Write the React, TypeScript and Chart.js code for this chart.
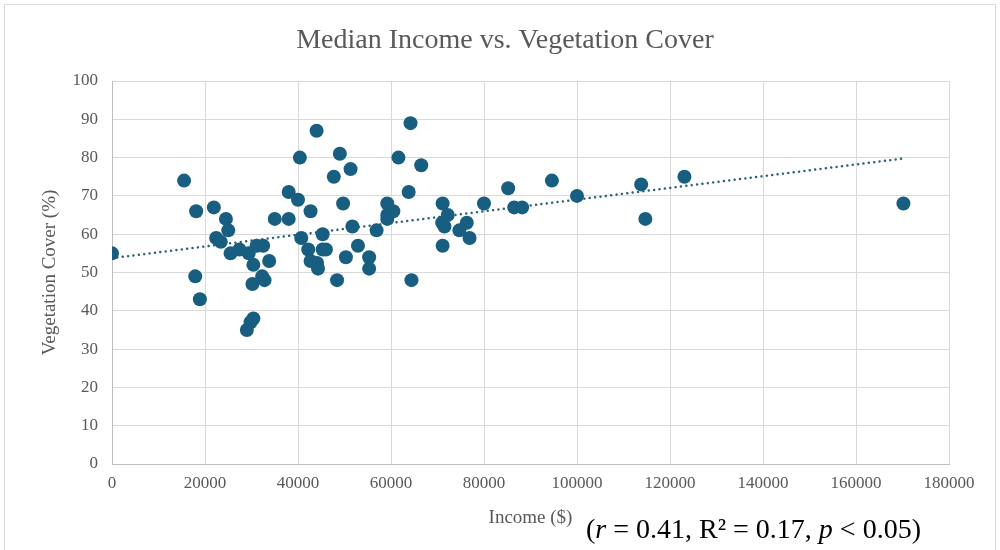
import React, { useEffect, useRef } from "react";
import { Chart, registerables } from "chart.js";

Chart.register(...registerables);

// Median household income ($) per area
const incomes = [
  0, 15500, 17900, 18100, 18900, 21900, 22400, 23400, 24500, 25000,
  25500, 27400, 29000, 29400, 29800, 30200, 30400, 30400, 31100, 32300,
  32500, 32800, 33800, 35000, 38000, 38000, 40000, 40400, 40700, 42200,
  42700, 42700, 44000, 44100, 44300, 45300, 45300, 46000, 47700, 48400,
  49000, 49700, 50300, 51300, 51700, 52900, 55300, 55300, 56900, 59200,
  59200, 59200, 60500, 61600, 63800, 64200, 64400, 66500, 71100, 71000,
  71500, 71100, 72200, 74700, 76300, 76900, 80000, 85200, 86500, 88200,
  94600, 100000, 113800, 114700, 123100, 170200,
];

// Vegetation cover (%) per area
const vegetation = [
  55, 74, 49, 66, 43, 67, 59, 58, 64, 61,
  55, 56, 35, 55, 37, 47, 38, 52, 57, 49,
  57, 48, 53, 64, 64, 71, 69, 80, 59, 56,
  66, 53, 87, 52.5, 51, 60, 56, 56, 75, 48,
  81, 68, 54, 77, 62, 57, 54, 51, 61, 68,
  65, 64, 66, 80, 71, 89, 48, 78, 68, 63,
  62, 57, 65, 61, 63, 59, 68, 72, 67, 67,
  74, 70, 73, 64, 75, 68,
];

const xTickValues = [0, 20000, 40000, 60000, 80000, 100000, 120000, 140000, 160000, 180000];
const yTickValues = [0, 10, 20, 30, 40, 50, 60, 70, 80, 90, 100];

const chartTitle = "Median Income vs. Vegetation Cover";
const xAxisTitle = "Income ($)";
const yAxisTitle = "Vegetation Cover (%)";
const statsParts: { text: string; italic: boolean }[] = [
  { text: "(", italic: false },
  { text: "r", italic: true },
  { text: " = 0.41, R\u00B2 = 0.17, ", italic: false },
  { text: "p", italic: true },
  { text: " < 0.05)", italic: false },
];

function linearFit(xs: number[], ys: number[]) {
  const n = xs.length;
  const mx = xs.reduce((a, b) => a + b, 0) / n;
  const my = ys.reduce((a, b) => a + b, 0) / n;
  let sxy = 0;
  let sxx = 0;
  for (let i = 0; i < n; i++) {
    sxy += (xs[i] - mx) * (ys[i] - my);
    sxx += (xs[i] - mx) * (xs[i] - mx);
  }
  const slope = sxy / sxx;
  return { slope, intercept: my - slope * mx };
}

const SERIF = "'Liberation Serif', 'Times New Roman', serif";
const GREY_TEXT = "#595959";

const decorPlugin = {
  id: "decor",
  beforeDraw(chart: any) {
    const { ctx, width, height } = chart;
    ctx.save();
    ctx.fillStyle = "#ffffff";
    ctx.fillRect(0, 0, width, height);
    ctx.strokeStyle = "#d9d9d9";
    ctx.lineWidth = 1;
    ctx.strokeRect(4.5, 4.5, width - 9, height + 10);
    ctx.restore();
  },
  afterDraw(chart: any) {
    const { ctx, chartArea } = chart;
    ctx.save();
    // title
    ctx.fillStyle = GREY_TEXT;
    ctx.font = `28px ${SERIF}`;
    ctx.textAlign = "center";
    ctx.textBaseline = "middle";
    ctx.fillText(chartTitle, 505, 41);

    // x axis title
    ctx.font = `19px ${SERIF}`;
    ctx.fillText(xAxisTitle, (chartArea.left + chartArea.right) / 2, 518);

    // y axis title
    ctx.save();
    ctx.translate(50, (chartArea.top + chartArea.bottom) / 2);
    ctx.rotate(-Math.PI / 2);
    ctx.fillText(yAxisTitle, 0, 0);
    ctx.restore();

    // statistics annotation
    ctx.fillStyle = "#000000";
    ctx.textAlign = "left";
    ctx.textBaseline = "alphabetic";
    let x = 586;
    const y = 538;
    for (const part of statsParts) {
      ctx.font = `${part.italic ? "italic " : ""}28px ${SERIF}`;
      ctx.fillText(part.text, x, y);
      x += ctx.measureText(part.text).width;
    }
    ctx.restore();
  },
};

export default function App() {
  const canvasRef = useRef<HTMLCanvasElement | null>(null);

  useEffect(() => {
    if (!canvasRef.current) return;
    const points = incomes.map((v, i) => ({ x: v, y: vegetation[i] }));
    const fit = linearFit(incomes, vegetation);
    const xMin = Math.min(...incomes);
    const xMax = Math.max(...incomes);
    const trend = [
      { x: xMin, y: fit.intercept + fit.slope * xMin },
      { x: xMax, y: fit.intercept + fit.slope * xMax },
    ];

    const tickFont = { family: SERIF, size: 17 };

    const chart = new Chart(canvasRef.current, {
      type: "scatter",
      data: {
        datasets: [
          {
            type: "scatter",
            label: "Vegetation Cover",
            data: points,
            backgroundColor: "#185e80",
            borderColor: "#185e80",
            borderWidth: 0,
            pointRadius: 7,
            pointHoverRadius: 7,
            order: 0,
          },
          {
            type: "line",
            label: "Linear trend",
            data: trend,
            borderColor: "#2b6273",
            borderWidth: 2.5,
            borderDash: [0.01, 5.4],
            borderCapStyle: "round",
            pointRadius: 0,
            fill: false,
            showLine: true,
            order: 1,
          } as any,
        ],
      },
      options: {
        responsive: false,
        animation: false,
        events: [],
        layout: { padding: { top: 81, right: 51, left: 0, bottom: 0 } },
        plugins: {
          legend: { display: false },
          title: { display: false },
          tooltip: { enabled: false },
        },
        scales: {
          x: {
            type: "linear",
            min: 0,
            max: 180000,
            afterBuildTicks: (scale: any) => {
              scale.ticks = xTickValues.map((v) => ({ value: v }));
            },
            afterFit: (scale: any) => {
              scale.height = 86;
            },
            ticks: {
              font: tickFont,
              color: GREY_TEXT,
              padding: 9,
              maxRotation: 0,
              autoSkip: false,
              callback: (v: any) => String(v),
            },
            grid: { color: "#d9d9d9", lineWidth: 1, drawTicks: false },
            border: { color: "#bfbfbf", width: 1 },
          },
          y: {
            type: "linear",
            min: 0,
            max: 100,
            afterBuildTicks: (scale: any) => {
              scale.ticks = yTickValues.map((v) => ({ value: v }));
            },
            afterFit: (scale: any) => {
              scale.width = 112;
            },
            ticks: {
              font: tickFont,
              color: GREY_TEXT,
              padding: 14,
              autoSkip: false,
              callback: (v: any) => String(v),
            },
            grid: { color: "#d9d9d9", lineWidth: 1, drawTicks: false },
            border: { color: "#bfbfbf", width: 1 },
          },
        },
      },
      plugins: [decorPlugin],
    });

    return () => chart.destroy();
  }, []);

  return (
    <div style={{ position: "fixed", left: 0, top: 0, width: 1000, height: 550, background: "#fff" }}>
      <canvas ref={canvasRef} width={1000} height={550} />
    </div>
  );
}
